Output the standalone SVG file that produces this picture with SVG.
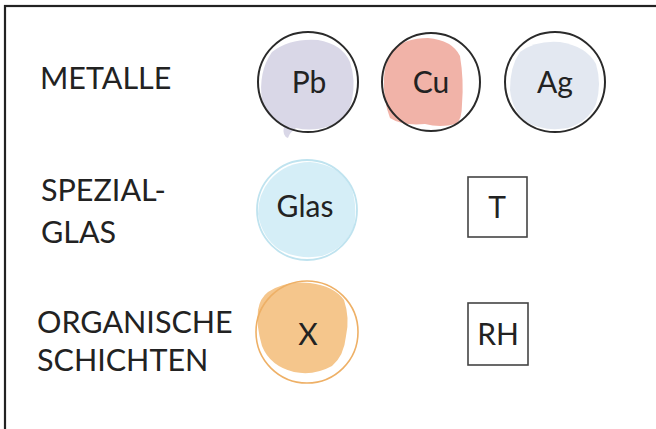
<svg xmlns="http://www.w3.org/2000/svg" width="656" height="429" viewBox="0 0 656 429">
<style>
.lbl{font-family:Lato,"Open Sans","Liberation Sans",sans-serif;font-size:30.5px;fill:#222}
.sym{font-family:Lato,"Open Sans","Liberation Sans",sans-serif;font-size:30px;fill:#222;text-anchor:middle}
.ring{fill:none;stroke:#2a2a2a;stroke-width:2}
.box{fill:#fff;stroke:#444;stroke-width:1.6}
</style>
<rect x="0" y="0" width="656" height="429" fill="#fff"/>
<rect x="5" y="6" width="660" height="440" fill="none" stroke="#222" stroke-width="2.2"/>
<g id="labels">
<text class="lbl" x="40" y="89">METALLE</text>
<text class="lbl" x="41" y="201">SPEZIAL-</text>
<text class="lbl" x="41" y="243">GLAS</text>
<text class="lbl" x="37" y="333">ORGANISCHE</text>
<text class="lbl" x="37" y="371">SCHICHTEN</text>
</g>
<g id="node-pb">
<path d="M272 52 Q290 38 318 40 Q342 44 350 62 Q356 80 352 100 Q348 118 330 126 Q312 132 296 128 Q290 132 288 138 Q282 136 284 126 Q266 118 262 100 Q258 72 272 52 Z" fill="#d9d7e7"/>
<circle class="ring" cx="308" cy="82" r="50"/>
<text class="sym" x="309" y="93">Pb</text>
</g>
<g id="node-cu">
<path d="M392 50 Q405 38 428 38 Q452 40 460 56 Q464 80 462 104 Q462 120 456 124 Q440 128 425 124 Q402 126 390 118 Q383 100 384 78 Q385 60 392 50 Z" fill="#f1b3a8"/>
<circle class="ring" cx="431" cy="82" r="49"/>
<text class="sym" x="431" y="93">Cu</text>
</g>
<g id="node-ag">
<path d="M520 52 Q536 40 560 42 Q586 46 596 64 Q602 84 596 104 Q588 122 568 128 Q544 132 526 122 Q512 110 510 90 Q510 66 520 52 Z" fill="#e3e8f1"/>
<circle class="ring" cx="555" cy="82" r="50"/>
<text class="sym" x="555" y="93">Ag</text>
</g>
<g id="node-glas">
<path d="M270 180 Q286 162 310 162 Q336 164 350 184 Q358 204 354 226 Q346 248 322 256 Q298 260 280 250 Q262 238 258 214 Q258 194 270 180 Z" fill="#d5eef7"/>
<circle cx="307" cy="210" r="50" fill="none" stroke="#bfe3ef" stroke-width="1.8"/>
<text class="sym" x="305" y="217">Glas</text>
</g>
<g id="node-t">
<rect class="box" x="468" y="177" width="59" height="60"/>
<text class="sym" x="497" y="218">T</text>
</g>
<g id="node-x">
<path d="M268 292 Q286 280 310 283 Q334 286 344 300 Q350 318 346 336 Q344 356 332 366 Q314 376 294 372 Q270 366 262 346 Q256 326 258 310 Q260 298 268 292 Z" fill="#f5c68c"/>
<circle cx="307" cy="332" r="51" fill="none" stroke="#eeb066" stroke-width="1.6"/>
<text class="sym" x="308" y="345">X</text>
</g>
<g id="node-rh">
<rect class="box" x="468" y="303" width="60" height="62"/>
<text class="sym" x="498" y="345">RH</text>
</g>
<g id="connectors"></g>
</svg>
